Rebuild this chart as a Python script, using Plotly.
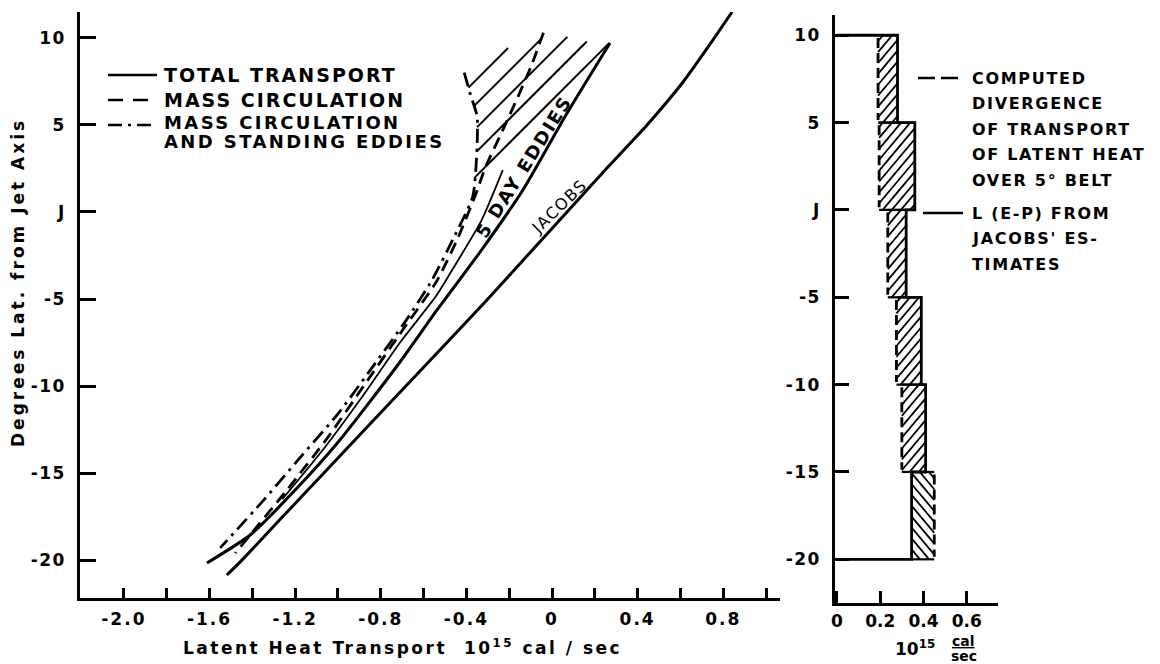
import math
import plotly.graph_objects as go

# ---------------- data ----------------
# Left panel: latent heat transport (10^15 cal/sec) vs degrees latitude from jet axis
jacobs_lat = [11.49, 9.89, 7.47, 5.0, 2.53, 0.0, -2.53, -5.06, -7.56, -10.06, -12.56, -15.06, -17.56, -20.06, -20.86]
jacobs_q = [0.841, 0.752, 0.612, 0.444, 0.257, 0.070, -0.117, -0.304, -0.495, -0.687, -0.879, -1.07, -1.262, -1.453, -1.519]

total_lat = [9.71, 5.57, 1.26, -2.30, -5.63, -8.62, -13.10, -15.98, -18.56, -20.17]
total_q = [0.271, 0.065, -0.136, -0.336, -0.537, -0.710, -0.991, -1.20, -1.41, -1.612]

thin_lat = [2.4, -0.5, -3.0, -4.8, -7.5, -10.5, -13.5, -16.5]
thin_q = [-0.23, -0.33, -0.45, -0.54, -0.71, -0.88, -1.06, -1.26]

mass_lat = [10.3, 8.3, 6.6, 4.7, 2.6, 0.9, -1.5, -4.0, -7.0, -10.0, -13.0, -16.0, -19.6]
mass_q = [-0.04, -0.10, -0.16, -0.23, -0.31, -0.36, -0.44, -0.54, -0.71, -0.88, -1.05, -1.24, -1.48]

stand_lat = [8.0, 6.7, 5.5, 3.8, 0.9, -1.5, -3.9, -6.2, -9.1, -11.6, -14.3, -16.6, -19.3]
stand_q = [-0.41, -0.38, -0.35, -0.35, -0.37, -0.46, -0.56, -0.68, -0.85, -1.00, -1.19, -1.35, -1.55]

# top edge of the hatched (5 day eddies) area
hatch_top_q = [-0.41, -0.26, -0.135, -0.01, 0.09, 0.16, 0.27]
hatch_top_lat = [8.0, 9.2, 9.7, 10.06, 10.06, 9.8, 9.7]

x_major = [-2.0, -1.6, -1.2, -0.8, -0.4, 0.0, 0.4, 0.8]
x_major_text = ["-2.0", "-1.6", "-1.2", "-0.8", "-0.4", "0", "0.4", "0.8"]
x_minor = [-1.8, -1.4, -1.0, -0.6, -0.2, 0.2, 0.6, 1.0]
y_ticks = [10, 5, 0, -5, -10, -15, -20]
y_text = ["10", "5", "J", "-5", "-10", "-15", "-20"]

# Right panel: divergence over 5 degree belts (10^15 cal/sec)
belt_top = [10, 5, 0, -5, -10, -15]
belt_bot = [5, 0, -5, -10, -15, -20]
computed = [0.19, 0.195, 0.235, 0.275, 0.30, 0.45]
jacobs_lep = [0.28, 0.36, 0.32, 0.39, 0.41, 0.345]
x2_ticks = [0, 0.2, 0.4, 0.6]
x2_text = ["0", "0.2", "0.4", "0.6"]

# ---------------- layout geometry ----------------
W, H = 1160, 664
ML, MR, MT, MB = 80, 162, 12, 61
PW, PH = W - ML - MR, H - MT - MB
FONT = "DejaVu Sans"

X1_DOM = [0, 700 / PW]
X1_RNG = [-2.205, 1.065]
Y1_DOM = [(603 - 598) / PH, 1]
Y1_RNG = [-22.18, 11.49]
X2_DOM = [755 / PW, 1]
X2_RNG = [-0.0092, 0.7448]
Y2_DOM = [0, (603 - 15) / PH]
Y2_RNG = [-22.5, 11.16]


def scale(dom, rng, n):
    return (dom[1] - dom[0]) * n / (rng[1] - rng[0])


SX1, SY1 = scale(X1_DOM, X1_RNG, PW), scale(Y1_DOM, Y1_RNG, PH)
SX2, SY2 = scale(X2_DOM, X2_RNG, PW), scale(Y2_DOM, Y2_RNG, PH)


def P(X, Y):
    return (X - ML) / PW, (H - MB - Y) / PH


def spaced(t, ls):
    return f'<span style="letter-spacing:{ls}px">{t}</span>'


def hatch(xs, ys, sx, sy, ang, step, mirror=False, phase=0.0):
    """Parallel hatch lines clipped to a polygon given in data units."""
    X = [x * sx for x in xs]
    Y = [-y * sy for y in ys]
    a = math.radians(ang)
    if mirror:
        nx, ny = math.sin(a), -math.cos(a)
        dx_, dy_ = math.cos(a), math.sin(a)
    else:
        nx, ny = math.sin(a), math.cos(a)
        dx_, dy_ = math.cos(a), -math.sin(a)
    p = [nx * X[i] + ny * Y[i] for i in range(len(X))]
    n = len(X)
    out_x, out_y = [], []
    c = math.ceil((min(p) - phase) / step) * step + phase
    while c < max(p):
        pts = []
        for i in range(n):
            j = (i + 1) % n
            pi, pj = p[i], p[j]
            if (pi <= c < pj) or (pj <= c < pi):
                t = (c - pi) / (pj - pi)
                px = X[i] + t * (X[j] - X[i])
                py = Y[i] + t * (Y[j] - Y[i])
                pts.append((dx_ * px + dy_ * py, px, py))
        pts.sort()
        for k in range(0, len(pts) - 1, 2):
            for _, px, py in (pts[k], pts[k + 1]):
                out_x.append(px / sx)
                out_y.append(-py / sy)
            out_x.append(None)
            out_y.append(None)
        c += step
    return out_x, out_y


fig = go.Figure()
blk = "black"

# hatched area (left): between the standing-eddy curve and the total transport tip
poly_q, poly_lat = [], []
for q, la in zip(stand_q[::-1], stand_lat[::-1]):
    if la >= 0.9:
        poly_q.append(q)
        poly_lat.append(la)
poly_q += hatch_top_q[1:]
poly_lat += hatch_top_lat[1:]
hx, hy = hatch(poly_q, poly_lat, SX1, SY1, 45, 17, phase=6)
fig.add_trace(go.Scatter(x=hx, y=hy, mode="lines", line=dict(color=blk, width=2),
                         hoverinfo="skip", showlegend=False, xaxis="x", yaxis="y"))

sp = dict(shape="spline", smoothing=0.6)
fig.add_trace(go.Scatter(x=jacobs_q, y=jacobs_lat, mode="lines", name="Jacobs",
                         line=dict(color=blk, width=3, **sp), xaxis="x", yaxis="y"))
fig.add_trace(go.Scatter(x=total_q, y=total_lat, mode="lines", name="TOTAL TRANSPORT",
                         line=dict(color=blk, width=3, **sp), xaxis="x", yaxis="y"))
fig.add_trace(go.Scatter(x=thin_q, y=thin_lat, mode="lines", name="eddy boundary",
                         line=dict(color=blk, width=1.8, **sp), xaxis="x", yaxis="y"))
fig.add_trace(go.Scatter(x=mass_q, y=mass_lat, mode="lines", name="MASS CIRCULATION",
                         line=dict(color=blk, width=2.8, dash="12px,7px", **sp),
                         xaxis="x", yaxis="y"))
fig.add_trace(go.Scatter(x=stand_q, y=stand_lat, mode="lines",
                         name="MASS CIRCULATION AND STANDING EDDIES",
                         line=dict(color=blk, width=2.8, dash="14px,6px,3px,6px", **sp),
                         xaxis="x", yaxis="y"))

# right panel hatches
rx, ry = [], []
for i in range(len(belt_top)):
    a, b = computed[i], jacobs_lep[i]
    bx = [a, b, b, a]
    by = [belt_top[i], belt_top[i], belt_bot[i], belt_bot[i]]
    hx, hy = hatch(bx, by, SX2, SY2, 50, 7, mirror=(a > b))
    rx += hx
    ry += hy
fig.add_trace(go.Scatter(x=rx, y=ry, mode="lines", line=dict(color=blk, width=1.8),
                         hoverinfo="skip", showlegend=False, xaxis="x2", yaxis="y2"))

# Jacobs L(E-P) step line
sx, sy = [0], [belt_top[0]]
for i in range(len(belt_top)):
    sx += [jacobs_lep[i], jacobs_lep[i]]
    sy += [belt_top[i], belt_bot[i]]
sx.append(0)
sy.append(belt_bot[-1])
fig.add_trace(go.Scatter(x=sx, y=sy, mode="lines", name="L(E-P) FROM JACOBS' ESTIMATES",
                         line=dict(color=blk, width=2.8), xaxis="x2", yaxis="y2"))
# block top/bottom edges
ex, ey = [], []
for i in range(len(belt_top)):
    ex += [computed[i], jacobs_lep[i], None, computed[i], jacobs_lep[i], None]
    ey += [belt_top[i], belt_top[i], None, belt_bot[i], belt_bot[i], None]
fig.add_trace(go.Scatter(x=ex, y=ey, mode="lines", line=dict(color=blk, width=2.2),
                         showlegend=False, hoverinfo="skip", xaxis="x2", yaxis="y2"))
# computed divergence (dashed verticals)
dx, dy = [], []
for i in range(len(belt_top)):
    dx += [computed[i], computed[i], None]
    dy += [belt_top[i] - 0.15, belt_bot[i] + 0.15, None]
fig.add_trace(go.Scatter(x=dx, y=dy, mode="lines", name="COMPUTED DIVERGENCE",
                         line=dict(color=blk, width=2.8, dash="10px,5px"),
                         xaxis="x2", yaxis="y2"))

tickfont = dict(family=FONT, size=17, color=blk, weight="bold")
axcommon = dict(showline=True, linecolor=blk, linewidth=2.5, showgrid=False, zeroline=False,
                ticks="inside", tickcolor=blk, tickwidth=2.5, tickfont=tickfont, mirror=False)

fig.update_layout(
    width=W, height=H, margin=dict(l=ML, r=MR, t=MT, b=MB),
    paper_bgcolor="white", plot_bgcolor="white", showlegend=False,
    xaxis=dict(domain=X1_DOM, range=X1_RNG, anchor="y",
               tickvals=x_major, ticktext=[spaced(t, 2) for t in x_major_text],
               ticklen=10, ticklabelstandoff=4,
               minor=dict(tickvals=x_minor, ticks="inside", ticklen=10, tickwidth=2.5,
                          tickcolor=blk), **axcommon),
    yaxis=dict(domain=Y1_DOM, range=Y1_RNG, anchor="x",
               tickvals=y_ticks, ticktext=[spaced(t, 1.5) for t in y_text],
               ticklen=16, ticklabelstandoff=8, **axcommon),
    xaxis2=dict(domain=X2_DOM, range=X2_RNG, anchor="y2",
                tickvals=x2_ticks, ticktext=x2_text, ticklen=12, ticklabelstandoff=1, **axcommon),
    yaxis2=dict(domain=Y2_DOM, range=Y2_RNG, anchor="x2",
                tickvals=y_ticks, ticktext=[spaced(t, 1.5) for t in y_text],
                ticklen=14, ticklabelstandoff=8, **axcommon),
)


def ann(X, Y, text, size=17, xanchor="center", angle=0, ls=0, weight="bold"):
    x, y = P(X, Y)
    if ls:
        text = spaced(text, ls)
    fig.add_annotation(x=x, y=y, xref="paper", yref="paper", text=text, showarrow=False,
                       xanchor=xanchor, yanchor="middle", textangle=angle,
                       font=dict(family=FONT, size=size, color=blk, weight=weight))


def seg(X0, X1, Y, dash="solid", width=2.5):
    x0, y0 = P(X0, Y)
    x1, _ = P(X1, Y)
    fig.add_shape(type="line", xref="paper", yref="paper", x0=x0, x1=x1, y0=y0, y1=y0,
                  line=dict(color=blk, width=width, dash=dash))


# axis titles
ann(18, 283, "Degrees Lat. from Jet Axis", size=17, angle=-90, ls=3)
ann(402, 647, "Latent Heat Transport  10<sup>15</sup> cal / sec", size=17, ls=2.5)
ann(915, 648, "10<sup>15</sup>", size=17)
ann(963, 641, "<u>cal</u>", size=14)
ann(964, 656, "sec", size=14)

# left legend
seg(108, 157, 75)
seg(108, 157, 100, dash="15px,10px")
seg(108, 157, 125, dash="14px,6px,3px,6px")
ann(162, 75, "TOTAL TRANSPORT", size=19, xanchor="left", ls=2)
ann(162, 100, "MASS CIRCULATION", size=19, xanchor="left", ls=2)
ann(162, 122, "MASS CIRCULATION", size=18, xanchor="left", ls=2.4)
ann(162, 142, "AND STANDING EDDIES", size=18, xanchor="left", ls=2.4)

# right legend
seg(918, 960, 78, dash="17px,6px")
for i, t in enumerate(["COMPUTED", "DIVERGENCE", "OF TRANSPORT", "OF LATENT HEAT", "OVER 5° BELT"]):
    ann(970, 78 + 25.6 * i, t, size=16, xanchor="left", ls=1.7)
seg(923, 963, 213)
for i, t in enumerate(["L (E-P) FROM", "JACOBS' ES-", "TIMATES"]):
    ann(970, 213 + 25.5 * i, t, size=16, xanchor="left", ls=1.7)

# curve labels
ann(523, 167, "5 DAY EDDIES", size=18, angle=-58, ls=2)
ann(559, 206, "JACOBS", size=16, angle=-44, ls=1.5, weight="normal")

fig.write_html("out.html", post_script="document.body.style.margin='0px';",
               config={"displayModeBar": False})
